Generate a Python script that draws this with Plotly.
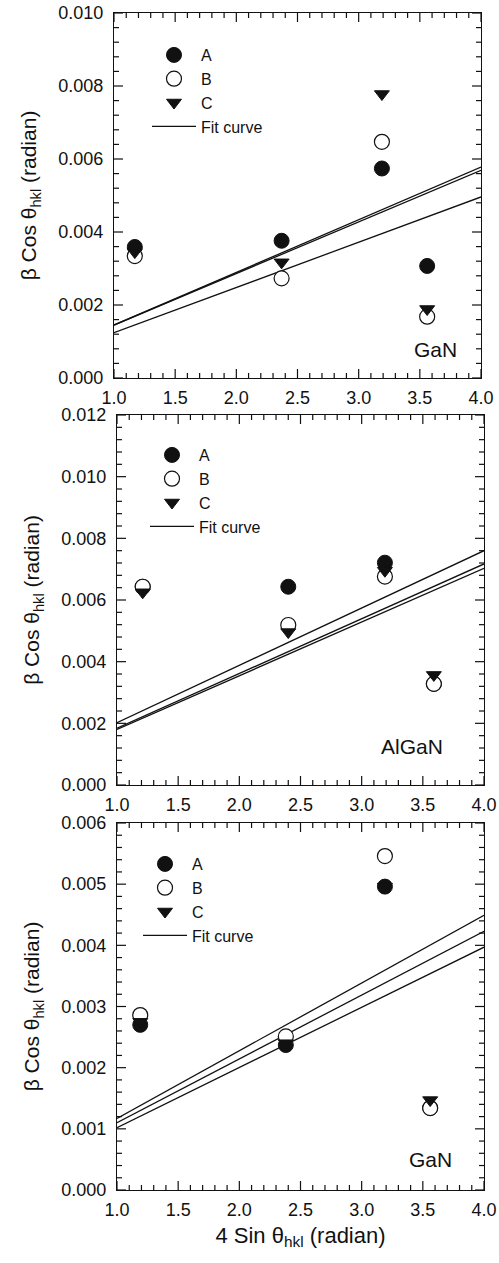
import numpy as np
import plotly.graph_objects as go

# ---- measured data (x = 4 sin θ, y = β cos θ) ----
x_gan_top = [1.17, 2.37, 3.19, 3.56]
a_gan_top = [0.00359, 0.00376, 0.00574, 0.00307]
b_gan_top = [0.00334, 0.00273, 0.00647, 0.00168]
c_gan_top = [0.00345, 0.00317, 0.00778, 0.00189]

x_algan = [1.21, 2.40, 3.19, 3.59]
a_algan = [0.00643, 0.00643, 0.00721, 0.00328]
b_algan = [0.00643, 0.00519, 0.00676, 0.00328]
c_algan = [0.00625, 0.00496, 0.00695, 0.00357]

x_gan_bot = [1.19, 2.38, 3.19, 3.56]
a_gan_bot = [0.00270, 0.00237, 0.00496, 0.00134]
b_gan_bot = [0.00286, 0.00251, 0.00546, 0.00134]
c_gan_bot = [0.00275, 0.00240, 0.00496, 0.00147]

# ---- linear fit lines: value at x = 1.0 and at x = 4.0 ----
fit_x = [1.0, 4.0]
fit_gan_top = [[0.00145, 0.00578], [0.00145, 0.00569], [0.00124, 0.00496]]
fit_algan = [[0.00202, 0.00760], [0.00184, 0.00717], [0.00180, 0.00703]]
fit_gan_bot = [[0.00117, 0.00449], [0.00110, 0.00423], [0.00102, 0.00397]]

panel_labels = ["GaN", "AlGaN", "GaN"]
label_pos = [(0.875, 0.077), (0.803, 0.103), (0.853, 0.082)]
x_range = [1.0, 4.0]
x_dtick, x_minor = 0.5, 0.1
y_ranges = [[0, 0.010], [0, 0.012], [0, 0.006]]
y_dticks = [0.002, 0.002, 0.001]
y_minor = [0.0004, 0.0004, 0.0002]

W, H = 499, 1263
FONT = "Liberation Sans, Arial, sans-serif"
INK = "#111111"

# plot-area pixel boxes: (left, right, top, bottom)
boxes = [(114, 481, 13, 378), (117, 484, 415, 785), (117, 484, 823, 1190)]
legend_pos = [(147, 38), (145, 438), (138, 847)]

panels = [
    (x_gan_top, a_gan_top, b_gan_top, c_gan_top, fit_gan_top),
    (x_algan, a_algan, b_algan, c_algan, fit_algan),
    (x_gan_bot, a_gan_bot, b_gan_bot, c_gan_bot, fit_gan_bot),
]

MAJOR_LEN, MINOR_LEN = 9, 5


def tick_values(lo, hi, step):
    n = int(round((hi - lo) / step))
    return [lo + k * step for k in range(n + 1)]


def to_paper(v, rng, dom):
    """Linear axis mapping from data value to paper fraction."""
    return dom[0] + (v - rng[0]) / (rng[1] - rng[0]) * (dom[1] - dom[0])


def frame_ticks(xdom, ydom, xr, yr, xd, xm, yd, ym):
    """Inward tick marks on all four sides of one panel frame."""
    shapes = []
    line = dict(color=INK, width=1.2)
    xmaj = tick_values(xr[0], xr[1], xd)
    for v in tick_values(xr[0], xr[1], xm):
        ln = MAJOR_LEN if np.isclose(xmaj, v).any() else MINOR_LEN
        xp = to_paper(v, xr, xdom)
        for base, sgn in ((ydom[0], 1), (ydom[1], -1)):
            shapes.append(dict(
                type="line", xref="paper", yref="paper", x0=xp, x1=xp,
                y0=base, y1=base + sgn * ln / H, line=line, layer="above"))
    ymaj = tick_values(yr[0], yr[1], yd)
    for v in tick_values(yr[0], yr[1], ym):
        ln = MAJOR_LEN if np.isclose(ymaj, v, atol=1e-9).any() else MINOR_LEN
        yp = to_paper(v, yr, ydom)
        for base, sgn in ((xdom[0], 1), (xdom[1], -1)):
            shapes.append(dict(
                type="line", xref="paper", yref="paper", y0=yp, y1=yp,
                x0=base, x1=base + sgn * ln / W, line=line, layer="above"))
    return shapes


fig = go.Figure()
annotations, shapes = [], []

for i, (xs, a, b, c, fits) in enumerate(panels):
    n = "" if i == 0 else str(i + 1)
    xa, ya, lg = "x" + n, "y" + n, "legend" + n
    # fit lines first so the markers sit on top
    for k, (y0, y1) in enumerate(fits):
        fig.add_trace(go.Scatter(
            x=fit_x, y=[y0, y1], mode="lines", name="Fit curve",
            line=dict(color=INK, width=1.3), xaxis=xa, yaxis=ya,
            legend=lg, showlegend=(k == 0), legendrank=4))
    fig.add_trace(go.Scatter(
        x=xs, y=a, mode="markers", name="A", xaxis=xa, yaxis=ya, legend=lg,
        legendrank=1,
        marker=dict(symbol="circle", size=15, color=INK,
                    line=dict(color=INK, width=1))))
    fig.add_trace(go.Scatter(
        x=xs, y=b, mode="markers", name="B", xaxis=xa, yaxis=ya, legend=lg,
        legendrank=2,
        marker=dict(symbol="circle", size=15, color="white",
                    line=dict(color=INK, width=1.2))))
    fig.add_trace(go.Scatter(
        x=xs, y=c, mode="markers", name="C", xaxis=xa, yaxis=ya, legend=lg,
        legendrank=3,
        marker=dict(symbol="triangle-down", size=13, color=INK,
                    line=dict(color=INK, width=1))))

    l, r, t, bt = boxes[i]
    xdom = [l / W, r / W]
    ydom = [1 - bt / H, 1 - t / H]
    common = dict(
        showline=True, linecolor=INK, linewidth=1.3, mirror=True,
        ticks="", showgrid=False, zeroline=False, automargin=False,
        tickfont=dict(family=FONT, size=18, color=INK))
    fig.layout["xaxis" + n] = dict(
        common, domain=xdom, range=x_range, anchor=ya,
        dtick=x_dtick, tick0=x_range[0], tickformat=".1f",
        ticklabelstandoff=3)
    fig.layout["yaxis" + n] = dict(
        common, domain=ydom, range=y_ranges[i],
        anchor=xa, dtick=y_dticks[i], tick0=0, tickformat=".3f",
        ticklabelstandoff=6,
        title=dict(text="\u03b2 Cos \u03b8<sub>hkl</sub> (radian)",
                   font=dict(family=FONT, size=21, color=INK), standoff=15))

    shapes += frame_ticks(xdom, ydom, x_range, y_ranges[i], x_dtick, x_minor,
                          y_dticks[i], y_minor[i])

    lx, ly = legend_pos[i]
    fig.layout[lg] = dict(
        x=lx / W, y=1 - ly / H, xanchor="left", yanchor="top",
        bgcolor="rgba(0,0,0,0)", borderwidth=0, itemwidth=44,
        font=dict(family=FONT, size=16, color=INK),
        traceorder="normal", tracegroupgap=0,
    )
    px, py = label_pos[i]
    annotations.append(dict(
        text=panel_labels[i], xref=xa + " domain", yref=ya + " domain",
        x=px, y=py, xanchor="center", yanchor="middle", showarrow=False,
        font=dict(family=FONT, size=21, color=INK)))

fig.layout.xaxis3.title = dict(
    text="4 Sin \u03b8<sub>hkl</sub> (radian)",
    font=dict(family=FONT, size=22, color=INK), standoff=8)

fig.update_layout(
    width=W, height=H, margin=dict(l=0, r=0, t=0, b=0, autoexpand=False),
    paper_bgcolor="white", plot_bgcolor="rgba(0,0,0,0)",
    font=dict(family=FONT, size=18, color=INK),
    annotations=annotations, shapes=shapes,
)
fig.write_html("out.html")
